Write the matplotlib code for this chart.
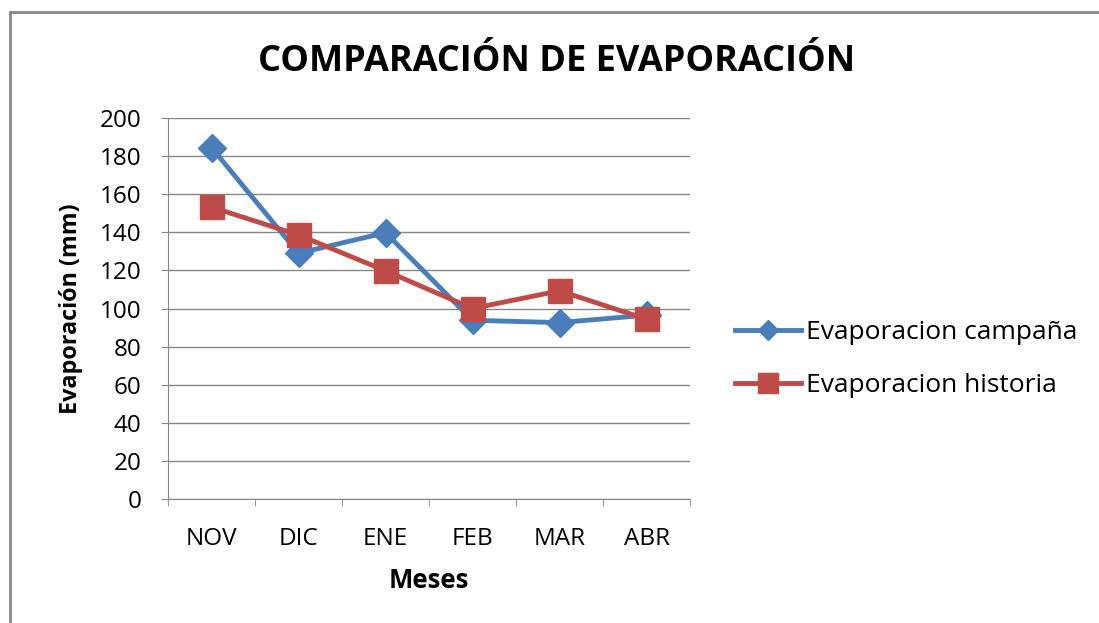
import numpy as np
import matplotlib.pyplot as plt
from matplotlib.patches import Rectangle

meses = ["NOV", "DIC", "ENE", "FEB", "MAR", "ABR"]
campana = [184.5, 129, 139.8, 93.8, 92.6, 96.5]
historia = [153.2, 138.6, 119.8, 100, 109.3, 94.4]

azul = "#4A7EBB"
rojo = "#BE4B48"
gris = "#868686"

plt.rcParams['font.family'] = ['Open Sans', 'DejaVu Sans']

fig = plt.figure(figsize=(10.99, 6.23), dpi=100)
fig.patches.append(Rectangle((10 / 1099, -0.1), 1.2, 1 - 12 / 623 + 0.1,
                             transform=fig.transFigure, fill=False,
                             edgecolor=gris, linewidth=2))

ax = fig.add_axes([168 / 1099, 1 - 499 / 623, 522 / 1099, 381 / 623])
x = np.arange(len(meses))
ax.plot(x, campana, "-D", color=azul, lw=3.5, ms=14, label="Evaporacion campaña")
ax.plot(x, historia, "-s", color=rojo, lw=3.5, ms=17, label="Evaporacion historia")

ax.set_xlim(-0.5, len(meses) - 0.5)
ax.set_ylim(0, 200)
ax.set_yticks(np.arange(0, 201, 20))
ax.set_xticks(x)
ax.set_xticklabels(meses)
ax.set_xticks(np.arange(-0.5, len(meses), 1), minor=True)
ax.tick_params(axis="x", which="major", length=0, pad=20, labelsize=17.5)
ax.tick_params(axis="x", which="minor", length=5, color=gris, direction="out")
ax.tick_params(axis="y", length=5, color=gris, labelsize=17.5, pad=14)
ax.grid(axis="y", color=gris, lw=1)
ax.set_axisbelow(True)
for s in ["top", "right"]:
    ax.spines[s].set_visible(False)
for s in ["left", "bottom"]:
    ax.spines[s].set_color(gris)

ax.set_xlabel("Meses", fontsize=18.5, fontweight="bold", labelpad=12)
ax.set_ylabel("Evaporación (mm)", fontsize=16.8, fontweight="bold", labelpad=12)
fig.text(557 / 1099, 1 - 62 / 623, "COMPARACIÓN DE EVAPORACIÓN",
         fontsize=26, fontweight="bold", ha="center", va="center")

leg = ax.legend(loc="center left", bbox_to_anchor=(735 / 1099, 1 - 359 / 623),
                bbox_transform=fig.transFigure, frameon=False, borderpad=0,
                borderaxespad=0, fontsize=19, handlelength=2.5,
                labelspacing=1.05, handletextpad=0.2)
leg.legend_handles[0].set_markersize(10)
leg.legend_handles[1].set_markersize(14)

fig.savefig("out.png", dpi=100)
